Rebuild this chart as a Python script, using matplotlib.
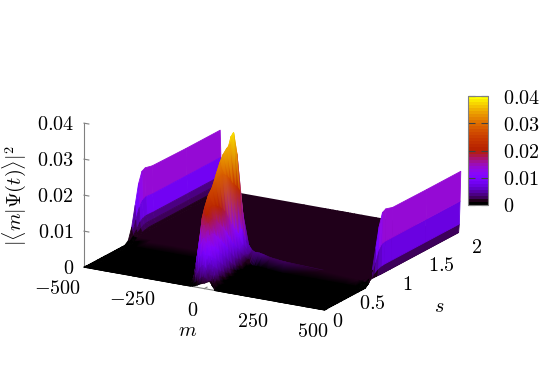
import numpy as np
import matplotlib
matplotlib.use("Agg")
import matplotlib.pyplot as plt
from matplotlib.cm import ScalarMappable
from matplotlib.collections import PolyCollection, TriMesh
from matplotlib.colors import ListedColormap, Normalize
from matplotlib.tri import Triangulation
from mpl_toolkits.mplot3d import proj3d

plt.rcParams['mathtext.fontset'] = 'cm'
plt.rcParams['font.family'] = 'serif'

GREY = '#808080'
FS = 14.5

# s rows of the surface
s_rows = [0, 0.006, 0.012, 0.018, 0.024, 0.03, 0.036, 0.042, 0.1, 0.15, 0.2, 0.25, 0.3, 0.35,
          0.4, 0.45, 0.5, 0.55, 0.6, 0.65, 0.7, 0.75, 0.8, 0.85, 0.9, 1, 1.5, 2]

# all heights below are in units of 1e-4; the wall tables start at s = 0.65,
# every row before that is flat zero
m_left = [-500, -497, -494, -491, -485, -475, -455, -420, -300, -150]
left_wall = [
    [8, 6, 5, 5, 6, 8, 10, 12, 14, 14],
    [40, 22, 16, 14, 13, 13, 13, 13, 13, 14],
    [95, 55, 28, 19, 15, 13, 13, 13, 13, 13],
    [150, 85, 45, 27, 17, 14, 13, 12, 13, 13],
    [180, 100, 52, 33, 20, 15, 13, 12, 12, 13],
    [185, 105, 54, 35, 22, 16, 13, 12, 12, 12],
    [180, 103, 53, 35, 22, 16, 13, 12, 12, 12],
    [178, 103, 53, 35, 22, 16, 13, 12, 12, 12],
    [178, 103, 53, 35, 22, 16, 13, 12, 12, 12],
]

m_centre = [-90, -60, -50, -40, -30, -20, -10, 0, 5, 10, 15, 20, 25, 30, 35, 43, 60, 90]
centre = [
    [0, 0, 1, 3, 6, 10, 13, 15, 17, 19, 21, 23, 24, 25, 20, 0, 0, 0],
    [0, 1, 4, 10, 16, 23, 30, 28, 26, 24, 23, 22, 22, 22, 18, 1, 0, 0],
    [0, 2, 10, 24, 38, 53, 62, 56, 50, 41, 32, 24, 17, 10, 6, 2, 0, 0],
    [0, 3, 16, 38, 61, 86, 99, 90, 80, 65, 52, 38, 27, 16, 9, 3, 0, 0],
    [0, 4, 22, 53, 84, 118, 136, 124, 110, 90, 71, 53, 37, 22, 12, 4, 0, 0],
    [0, 5, 27, 66, 105, 148, 172, 156, 139, 113, 90, 66, 47, 27, 16, 5, 0, 0],
    [0, 5, 32, 77, 122, 171, 198, 180, 160, 130, 104, 77, 54, 32, 18, 5, 0, 0],
    [0, 6, 35, 85, 135, 190, 220, 200, 178, 145, 115, 85, 60, 35, 20, 6, 0, 0],
    [0, 8, 28, 72, 143, 218, 250, 218, 183, 143, 105, 72, 46, 28, 15, 5, 0, 0],
    [0, 9, 32, 84, 165, 241, 263, 215, 174, 130, 92, 60, 36, 20, 10, 3, 0, 0],
    [0, 11, 38, 99, 189, 265, 273, 207, 160, 115, 76, 47, 27, 14, 7, 2, 0, 0],
    [0, 13, 45, 117, 218, 292, 283, 197, 146, 99, 63, 36, 19, 10, 5, 1, 0, 0],
    [0, 15, 54, 138, 250, 317, 286, 183, 128, 82, 49, 26, 13, 6, 3, 0, 0, 0],
    [0, 18, 64, 161, 278, 335, 278, 161, 106, 64, 35, 18, 8, 4, 2, 0, 0, 0],
    [0, 21, 76, 186, 310, 346, 264, 136, 84, 47, 24, 11, 5, 2, 1, 0, 0, 0],
    [0, 29, 96, 218, 336, 352, 245, 117, 70, 38, 18, 8, 3, 1, 0, 0, 0, 0],
    [0, 29, 102, 233, 368, 380, 233, 102, 57, 29, 13, 5, 2, 1, 0, 0, 0, 0],
    [0, 38, 109, 217, 307, 315, 217, 109, 67, 38, 20, 10, 4, 1, 0, 0, 0, 0],
    [2, 30, 70, 140, 200, 205, 145, 75, 50, 35, 22, 12, 8, 6, 6, 6, 6, 4],
    [16, 22, 40, 55, 70, 70, 60, 55, 50, 45, 42, 40, 38, 38, 38, 38, 36, 30],
    [14, 14, 15, 18, 22, 25, 26, 26, 26, 25, 24, 24, 24, 24, 24, 24, 24, 22],
    [14, 14, 14, 14, 14, 14, 14, 14, 14, 14, 16, 16, 16, 16, 16, 16, 16, 16],
    [14] * 18,
    [13] * 18,
    [12] * 18,
    [12] * 18,
    [12] * 18,
    [12] * 18,
]

m_right = [150, 300, 420, 455, 475, 485, 491, 494, 497, 500]
right_wall = [
    [26, 18, 14, 12, 10, 9, 8, 6, 6, 10],
    [18, 15, 14, 13, 13, 13, 14, 14, 25, 40],
    [16, 14, 13, 13, 13, 13, 13, 25, 55, 95],
    [14, 13, 12, 12, 12, 12, 13, 32, 85, 150],
    [13, 12, 12, 12, 12, 12, 12, 35, 98, 185],
    [12, 12, 12, 12, 12, 12, 12, 36, 100, 190],
    [12, 12, 12, 12, 12, 12, 12, 36, 100, 184],
    [12, 12, 12, 12, 12, 12, 12, 36, 100, 183],
    [12, 12, 12, 12, 12, 12, 12, 36, 100, 183],
]

m_ticks = [-500, -250, 0, 250, 500]
s_ticks = [0, 0.5, 1, 1.5, 2]
s_labels = ['0', '0.5', '1', '1.5', '2']
z_ticks = [0, 0.01, 0.02, 0.03, 0.04]
z_labels = ['0', '0.01', '0.02', '0.03', '0.04']


def gnuplot_palette(n=36):
    # pm3d default rgbformulae 7,5,15
    x = np.linspace(0, 1, n)
    x[1] = 0.016
    r = np.sqrt(x)
    g = x ** 3
    b = np.clip(np.sin(2 * np.pi * x), 0, 1)
    return ListedColormap(np.column_stack([r, g, b]))


def project_grid(ax, m_vals, s_vals, z_vals):
    X, Y = np.meshgrid(m_vals, s_vals)
    px, py, _ = proj3d.proj_transform(X.ravel(), Y.ravel(), z_vals.ravel(), ax.get_proj())
    return px.reshape(X.shape), py.reshape(X.shape)


# mplot3d sorts facets by mean depth, which breaks on these long thin ones,
# so both helpers paint back to front like pm3d does
def flat_facets(ax, px, py, z_vals, columns, zorder):
    verts, means = [], []
    for i in range(z_vals.shape[0] - 2, -1, -1):
        for j in columns:
            idx = [(i, j), (i, j + 1), (i + 1, j + 1), (i + 1, j)]
            verts.append([(px[k], py[k]) for k in idx])
            means.append(np.mean([z_vals[k] for k in idx]))
    return PolyCollection(verts, array=np.array(means), cmap=cmap, norm=norm, edgecolors='face',
                          linewidths=0.6, transform=ax.transData, zorder=zorder)


def smooth_facets(ax, px, py, z_vals, columns, zorder):
    nrow, ncol = z_vals.shape
    tris = []
    for i in range(nrow - 2, -1, -1):
        for j in columns:
            a, b = i * ncol + j, i * ncol + j + 1
            c, d = (i + 1) * ncol + j + 1, (i + 1) * ncol + j
            tris.append([a, b, c])
            tris.append([a, c, d])
    tri = Triangulation(px.ravel(), py.ravel(), triangles=np.array(tris))
    return TriMesh(tri, array=z_vals.ravel(), cmap=cmap, norm=norm,
                   transform=ax.transData, zorder=zorder)


def label_at(ax, m, s, z, text, **kwargs):
    px, py, _ = proj3d.proj_transform(m, s, z, ax.get_proj())
    ax.text2D(px, py, text, transform=ax.transData, fontsize=FS, va='center', **kwargs)


m_all = np.array(m_left + m_centre + m_right)
flat_rows = np.zeros((len(s_rows) - len(left_wall), len(m_left)))
heights = np.hstack([np.vstack([flat_rows, left_wall]), centre,
                     np.vstack([flat_rows, right_wall])]) * 1e-4

cmap = gnuplot_palette()
norm = Normalize(0, 0.04)

W, H = 545, 382
fig = plt.figure(figsize=(5.45, 3.82), dpi=100)
ax = fig.add_axes([-3.9 / W, 6.4 / H, 1, 1], projection='3d', proj_type='ortho', computed_zorder=False)
ax.view_init(elev=18, azim=-60)
ax.set_box_aspect((1, 1, 0.545), zoom=1.07)
ax.set_xlim(-500, 500)
ax.set_ylim(0, 2.04)
ax.set_zlim(0, 0.04)
ax.set_xticks([])
ax.set_yticks([])
ax.set_zticks([])
ax.set_axis_off()

# box lines and ticks go under the surface
ax.plot([-500, -500], [0, 0], [0, 0.04], color=GREY, lw=0.8, zorder=1)
ax.plot([-500, 500], [0, 0], [0, 0], color=GREY, lw=0.8, zorder=1)
for z in z_ticks:
    ax.plot([-500, -480], [0, 0], [z, z], color=GREY, lw=0.8, zorder=1)
for m in m_ticks:
    ax.plot([m, m], [0, 0.04], [0, 0], color=GREY, lw=0.8, zorder=1)

# the walls keep their plain bands, the middle is shaded smoothly
px, py = project_grid(ax, m_all, s_rows, heights)
i_left = list(m_all).index(-475)
i_right = list(m_all).index(475)
fig.add_artist(flat_facets(ax, px, py, heights, range(i_left), 2))
fig.add_artist(smooth_facets(ax, px, py, heights, range(i_left, i_right), 3))
fig.add_artist(flat_facets(ax, px, py, heights, range(i_right, len(m_all) - 1), 4))

for m in m_ticks:
    if m == -500:
        label_at(ax, -560, -0.175, -0.0048, f'${m}$', ha='center')
    else:
        label_at(ax, m, -0.175, -0.0043, f'${m}$', ha='center')
for s, lab in zip(s_ticks, s_labels):
    label_at(ax, 554, s * 1.02, -0.0026, f'${lab}$', ha='center')
for z, lab in zip(z_ticks, z_labels):
    label_at(ax, -541, 0, z - 0.0008, f'${lab}$', ha='right')

fig.text(188 / W, 1 - 330 / H, '$m$', ha='center', va='center', fontsize=FS)
fig.text(439 / W, 1 - 307 / H, '$s$', ha='center', va='center', fontsize=FS)
fig.text(14 / W, 1 - 195 / H, r'$|\langle m|\Psi(t)\rangle|^2$', rotation=90,
         ha='center', va='center', fontsize=FS)

cax = fig.add_axes([468 / W, 1 - 205 / H, 20 / W, 109 / H])
cbar = fig.colorbar(ScalarMappable(norm=norm, cmap=cmap), cax=cax, ticks=z_ticks)
cbar.ax.set_yticklabels([f'${lab}$' for lab in z_labels], fontsize=FS)
cbar.outline.set_edgecolor(GREY)
cbar.outline.set_linewidth(0.8)
cax.tick_params(direction='in', length=5, width=0.8, color='#404040', left=True, right=True, pad=11)

fig.savefig('out.png', dpi=100)
